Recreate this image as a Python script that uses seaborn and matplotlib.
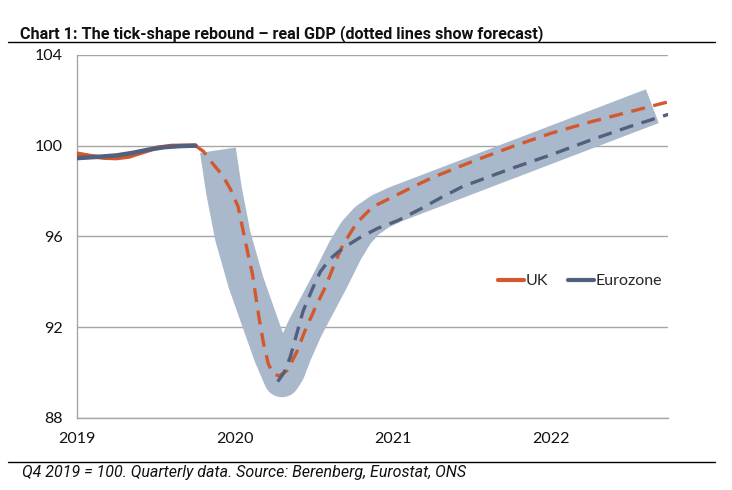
import numpy as np
import pandas as pd
import matplotlib
matplotlib.use("Agg")
import matplotlib.pyplot as plt
import seaborn as sns
from matplotlib.lines import Line2D

# Data (x in year fractions, Q1 at .0)
uk_hist_x = [2019.0, 2019.08, 2019.17, 2019.25, 2019.33, 2019.42, 2019.5, 2019.6, 2019.75]
uk_hist = [99.65, 99.55, 99.47, 99.45, 99.52, 99.72, 99.9, 99.99, 100.0]
ez_hist_x = [2019.0, 2019.12, 2019.25, 2019.35, 2019.45, 2019.55, 2019.65, 2019.75]
ez_hist = [99.45, 99.5, 99.57, 99.68, 99.82, 99.93, 99.98, 100.0]

uk_fc_x = [2019.75, 2019.8, 2019.86, 2019.92, 2019.97, 2020.02, 2020.05, 2020.08, 2020.11,
           2020.15, 2020.18, 2020.21, 2020.24, 2020.28, 2020.33, 2020.39, 2020.44, 2020.51,
           2020.57, 2020.63, 2020.68, 2020.77, 2020.87, 2021.0, 2021.13, 2021.25, 2021.5,
           2021.75, 2022.0, 2022.25, 2022.5, 2022.75]
uk_fc = [100.0, 99.75, 99.2, 98.7, 98.1, 97.3, 96.3, 95.3, 94.35,
         92.5, 91.3, 90.4, 89.95, 89.85, 90.1, 90.9, 91.8, 92.9,
         93.75, 94.8, 95.6, 96.6, 97.3, 97.75, 98.2, 98.6, 99.3,
         99.95, 100.55, 101.05, 101.5, 101.95]

ez_fc_x = [2020.27, 2020.31, 2020.35, 2020.39, 2020.43, 2020.49, 2020.54, 2020.6, 2020.65,
           2020.71, 2020.79, 2020.9, 2021.03, 2021.17, 2021.3, 2021.44, 2021.75, 2022.0,
           2022.25, 2022.5, 2022.75]
ez_fc = [89.6, 90.0, 90.7, 91.7, 92.7, 93.7, 94.45, 95.0, 95.3,
         95.6, 95.95, 96.35, 96.7, 97.2, 97.7, 98.2, 99.0, 99.6,
         100.25, 100.85, 101.4]

# the "tick" band behind the lines (centre line of the band)
band_x = [2019.892, 2019.930, 2019.987, 2020.070, 2020.171, 2020.234, 2020.297,
          2020.329, 2020.373, 2020.443, 2020.601, 2020.696, 2020.766, 2020.835,
          2020.918, 2021.013, 2022.639]
band_y = [99.80, 98.03, 95.99, 93.96, 91.96, 90.73, 89.71,
          90.06, 90.86, 91.96, 94.04, 95.37, 96.17, 96.70,
          97.10, 97.41, 101.74]

year_ticks = [2019, 2020, 2021, 2022]
y_ticks = [88, 92, 96, 100, 104]

title = "Chart 1: The tick-shape rebound \u2013 real GDP (dotted lines show forecast)"
footer = "Q4 2019 = 100. Quarterly data. Source: Berenberg, Eurostat, ONS"

UK_COL = "#d2592e"
EZ_COL = "#52607e"
BAND_COL = "#aab8cc"

sns.set_style("white")
plt.rcParams["font.family"] = ["Lato", "DejaVu Sans"]

fig = plt.figure(figsize=(7.32, 4.9), dpi=100)
ax = fig.add_axes([0.105, 0.147, 0.808, 0.741])

# band
sns.lineplot(x=band_x, y=band_y, ax=ax, color=BAND_COL, linewidth=26,
             solid_joinstyle="round", solid_capstyle="butt", zorder=2)

# actual data (solid)
sns.lineplot(x=uk_hist_x, y=uk_hist, ax=ax, color=UK_COL, linewidth=3.2, label="UK", zorder=4)
sns.lineplot(x=ez_hist_x, y=ez_hist, ax=ax, color=EZ_COL, linewidth=3.2, label="Eurozone", zorder=5)

# forecasts (dashed)
sns.lineplot(x=uk_fc_x, y=uk_fc, ax=ax, color=UK_COL, linewidth=2.4,
             linestyle=(0, (4.2, 2.6)), zorder=4)
sns.lineplot(x=ez_fc_x, y=ez_fc, ax=ax, color=EZ_COL, linewidth=2.4,
             linestyle=(0, (4.2, 2.6)), zorder=5)

ax.set_xlim(2019, 2022.74)
ax.set_ylim(88, 104)
ax.set_xticks(year_ticks)
ax.set_yticks(y_ticks)
ax.set_xticklabels([str(y) for y in year_ticks])
ax.set_yticklabels([str(y) for y in y_ticks])
ax.yaxis.grid(True, color="#a6a6a6", linewidth=1)
ax.xaxis.grid(False)
ax.set_axisbelow(True)
ax.set_xlabel("")
ax.set_ylabel("")

for s in ["top", "right"]:
    ax.spines[s].set_visible(False)
for s in ["left", "bottom"]:
    ax.spines[s].set_color("#a6a6a6")
    ax.spines[s].set_linewidth(1)

ax.tick_params(axis="both", which="both", length=4, color="#a6a6a6", width=1,
               labelsize=11.5, labelcolor="#111111", direction="out")
ax.tick_params(axis="x", pad=6)
ax.tick_params(axis="y", pad=6)

leg = ax.legend(loc="center left", bbox_to_anchor=(0.712, 0.377), ncol=2,
                frameon=False, fontsize=11.5, handlelength=1.6, handletextpad=0.1,
                columnspacing=1.3, borderpad=0, borderaxespad=0)
for h in leg.legend_handles:
    h.set_linewidth(3)

# title and footer with rules
fig.text(0.027, 0.922, title, fontsize=11.6, fontweight="bold", family=["Roboto", "DejaVu Sans"],
         ha="left", va="baseline", color="#111111")
fig.add_artist(Line2D([0.011, 0.977], [0.914, 0.914], transform=fig.transFigure,
                      color="black", linewidth=1))
fig.add_artist(Line2D([0.011, 0.977], [0.057, 0.057], transform=fig.transFigure,
                      color="black", linewidth=1))
fig.text(0.03, 0.027, footer, fontsize=11.5, fontstyle="italic",
         family=["Roboto", "DejaVu Sans"], ha="left", va="baseline", color="#111111")

fig.savefig("out.png", dpi=100)
